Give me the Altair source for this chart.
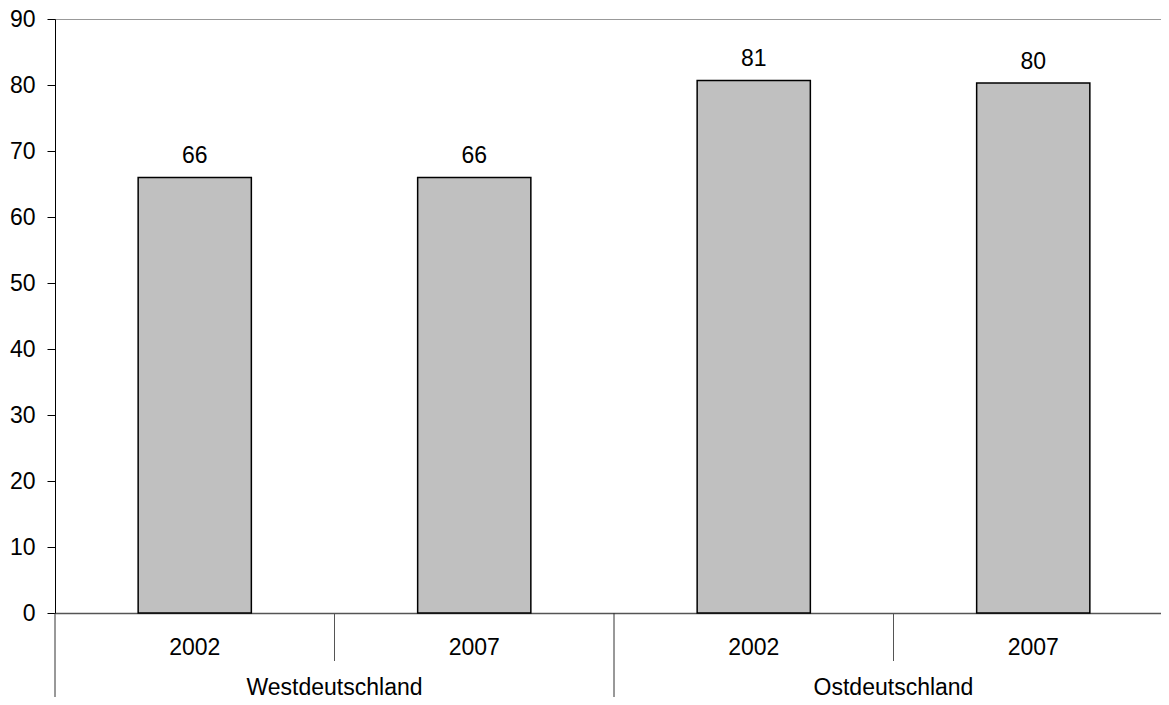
import altair as alt
import pandas as pd

cats = ["W2002", "W2007", "O2002", "O2007"]
years = ["2002", "2007", "2002", "2007"]
values = [66.0, 66.0, 80.7, 80.3]
labels = ["66", "66", "81", "80"]
regions = ["Westdeutschland", "Ostdeutschland"]
region_anchor = ["W2007", "O2007"]

FONT = "Liberation Sans"
FS = 23

df = pd.DataFrame({"cat": cats, "year": years, "value": values, "label": labels})
df_reg = pd.DataFrame({"cat": region_anchor, "region": regions})
df_short = pd.DataFrame({"cat": [cats[1], cats[3]]})
df_long0 = pd.DataFrame({"cat": [cats[0], cats[2]]})

H = 594
W = 1106
xscale = alt.Scale(domain=cats, paddingInner=0, paddingOuter=0, range=[0, 1118])
yscale = alt.Scale(domain=[0, 90], nice=False)

bars = alt.Chart(df).mark_bar(
    fill="#c0c0c0", stroke="black", strokeWidth=1.5,
    width=alt.RelativeBandSize(0.405)
).encode(
    x=alt.X("cat:N", scale=xscale, sort=cats,
            axis=alt.Axis(labels=False, ticks=False, title=None,
                          domainColor="#555555", domainWidth=1.5)),
    y=alt.Y("value:Q", scale=yscale,
            axis=alt.Axis(values=list(range(0, 91, 10)), grid=False, title=None,
                          domainColor="black", tickColor="black", tickSize=8,
                          labelFont=FONT, labelFontSize=FS, labelColor="black",
                          labelPadding=12)),
)

bar_text = alt.Chart(df).mark_text(
    font=FONT, fontSize=FS, color="black", baseline="alphabetic", dy=-14
).encode(
    x=alt.X("cat:N", scale=xscale, sort=cats),
    y=alt.Y("value:Q", scale=yscale),
    text="label:N",
)

year_text = alt.Chart(df).mark_text(
    font=FONT, fontSize=FS, color="black", baseline="middle"
).encode(
    x=alt.X("cat:N", scale=xscale, sort=cats),
    y=alt.value(H + 35),
    text="year:N",
)

region_text = alt.Chart(df_reg).mark_text(
    font=FONT, fontSize=FS, color="black", baseline="middle"
).encode(
    x=alt.X("cat:N", scale=xscale, sort=cats, bandPosition=0),
    y=alt.value(H + 75),
    text="region:N",
)

short_sep = alt.Chart(df_short).mark_rule(color="#555555", strokeWidth=1).encode(
    x=alt.X("cat:N", scale=xscale, sort=cats, bandPosition=0),
    y=alt.value(H),
    y2=alt.value(H + 48),
)

long_sep0 = alt.Chart(df_long0).mark_rule(color="#333333", strokeWidth=1).encode(
    x=alt.X("cat:N", scale=xscale, sort=cats, bandPosition=0),
    y=alt.value(H),
    y2=alt.value(H + 84),
)

chart = alt.layer(
    bars, bar_text, year_text, region_text, short_sep, long_sep0
).properties(
    width=W, height=H,
    autosize=alt.AutoSizeParams(type="none"),
    padding={"left": 47, "top": 11, "right": 0, "bottom": 84},
).configure_view(
    stroke="#999999", strokeWidth=1
)

chart.save("out.html", embed_options={"renderer": "svg", "actions": False})
